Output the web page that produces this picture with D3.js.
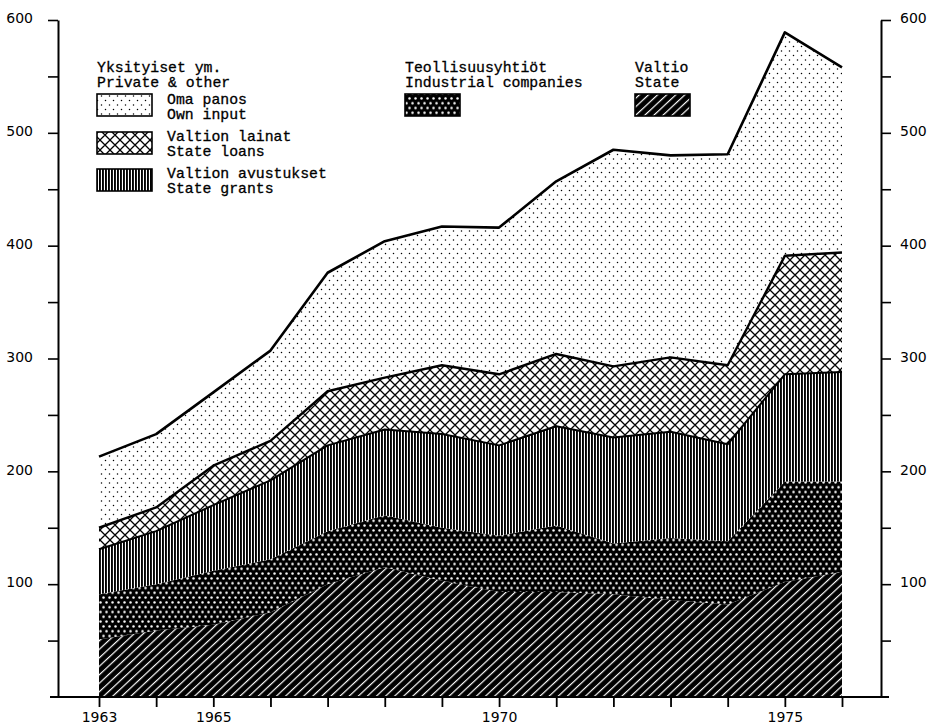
<!DOCTYPE html>
<html><head><meta charset="utf-8">
<script src="https://cdn.jsdelivr.net/npm/d3@7"></script>
<style>body{margin:0;background:#fff}svg{display:block}</style>
</head><body>
<svg id="c" width="928" height="724"></svg>
<script>
// ---- data (millions of marks) ----
const years      = [1963,1964,1965,1966,1967,1968,1969,1970,1971,1972,1973,1974,1975,1976];
const stateVals  = [51, 59, 64, 75,100,115,103, 93, 93, 91, 86, 82,102,111];
const industryVals=[40, 41, 48, 47, 47, 46, 47, 50, 59, 45, 55, 56, 89, 80];
const grantVals  = [40, 47, 58, 70, 76, 76, 83, 80, 88, 94, 94, 86, 95, 97];
const loanVals   = [19, 21, 35, 35, 48, 46, 61, 63, 64, 63, 66, 70,105,106];
const ownVals    = [63, 65, 65, 80,105,121,123,130,153,192,179,187,198,164];
const yTickValues = [50,100,150,200,250,300,350,400,450,500,550,600];
const yLabelValues = [100,200,300,400,500,600];
const xLabelValues = [1963,1965,1970,1975];

const keys = ["state","industry","grants","loans","own"];
const table = years.map((yr,i)=>({year:yr,state:stateVals[i],industry:industryVals[i],grants:grantVals[i],loans:loanVals[i],own:ownVals[i]}));

const svg = d3.select("#c");
const x = d3.scaleLinear().domain([1963,1976]).range([99,842]);
const y = d3.scaleLinear().domain([0,600]).range([697,20]);

// ---- patterns ----
const defs = svg.append("defs");
let p = defs.append("pattern").attr("id","pState").attr("patternUnits","userSpaceOnUse")
  .attr("width",6.2).attr("height",6.2).attr("patternTransform","rotate(-43)");
p.append("rect").attr("width",6.2).attr("height",6.2).attr("fill","#000");
p.append("rect").attr("y",2.6).attr("width",6.2).attr("height",1.2).attr("fill","#fff");
p = defs.append("pattern").attr("id","pInd").attr("patternUnits","userSpaceOnUse")
  .attr("width",6).attr("height",9.6);
p.append("rect").attr("width",6).attr("height",9.6).attr("fill","#000");
p.append("circle").attr("cx",1.5).attr("cy",2.4).attr("r",1.25).attr("fill","#fff");
p.append("circle").attr("cx",4.5).attr("cy",7.2).attr("r",1.25).attr("fill","#fff");
p = defs.append("pattern").attr("id","pGrant").attr("patternUnits","userSpaceOnUse")
  .attr("width",3).attr("height",10);
p.append("rect").attr("width",3).attr("height",10).attr("fill","#fff");
p.append("rect").attr("width",1.9).attr("height",10).attr("fill","#000");
p = defs.append("pattern").attr("id","pLoan").attr("patternUnits","userSpaceOnUse")
  .attr("width",10).attr("height",10);
p.append("rect").attr("width",10).attr("height",10).attr("fill","#fff");
p.append("path").attr("d","M-1,-1L11,11M-1,11L11,-1M4,-6L16,6M-6,4L6,16M-6,6L6,-6M4,16L16,4")
  .attr("stroke","#000").attr("stroke-width",1.3);
p = defs.append("pattern").attr("id","pOwn").attr("patternUnits","userSpaceOnUse")
  .attr("width",8).attr("height",9);
p.append("rect").attr("width",8).attr("height",9).attr("fill","#fff");
p.append("circle").attr("cx",1.5).attr("cy",1.5).attr("r",0.75).attr("fill","#000");
p.append("circle").attr("cx",5.5).attr("cy",6).attr("r",0.75).attr("fill","#000");

const fills = {state:"url(#pState)",industry:"url(#pInd)",grants:"url(#pGrant)",loans:"url(#pLoan)",own:"url(#pOwn)"};

// ---- stacked areas ----
const series = d3.stack().keys(keys)(table);
const area = d3.area().x(d=>x(d.data.year)).y0(d=>y(d[0])).y1(d=>y(d[1]));
svg.append("g").selectAll("path").data(series).join("path")
  .attr("d",area).attr("fill",d=>fills[d.key]);

const line = d3.line().x(d=>x(d.data.year)).y(d=>y(d[1]));
const lw = {grants:2, loans:2.4, own:2.6};
svg.append("g").selectAll("path").data(series.filter(s=>lw[s.key])).join("path")
  .attr("d",line).attr("fill","none").attr("stroke","#000")
  .attr("stroke-width",d=>lw[d.key]).attr("stroke-linejoin","round");

// ---- axes ----
const axisFont = "DejaVu Sans, sans-serif";
const fmtY = d=> yLabelValues.includes(d) ? d : "";
const gl = svg.append("g").attr("transform","translate(58,0)")
  .call(d3.axisLeft(y).tickValues(yTickValues).tickSize(10).tickSizeOuter(0).tickPadding(15).tickFormat(fmtY));
const gr = svg.append("g").attr("transform","translate(881,0)")
  .call(d3.axisRight(y).tickValues(yTickValues).tickSize(10).tickSizeOuter(0).tickPadding(9).tickFormat(fmtY));
[gl,gr].forEach(g=>{
  g.select(".domain").attr("stroke-width",2);
  g.selectAll(".tick line").attr("stroke-width",1.6);
  g.selectAll("text").attr("font-family",axisFont).attr("font-size",14).attr("dy","0.2em").attr("fill","#000");
});
const gb = svg.append("g").attr("transform","translate(0,697)")
  .call(d3.axisBottom(x).tickValues(years).tickSize(10).tickPadding(5).tickFormat(d=> xLabelValues.includes(d) ? d : ""));
gb.select(".domain").remove();
gb.selectAll(".tick line").attr("stroke-width",1.8);
gb.selectAll("text").attr("font-family",axisFont).attr("font-size",14).attr("fill","#000");
svg.append("line").attr("x1",50).attr("x2",889).attr("y1",697).attr("y2",697)
  .attr("stroke","#000").attr("stroke-width",2);

// ---- legend ----
const legFont = "Liberation Mono, Courier New, monospace";
const legendText = [
  {x:97,y:72,t:"Yksityiset ym."},{x:97,y:87,t:"Private & other"},
  {x:167,y:104,t:"Oma panos"},{x:167,y:119,t:"Own input"},
  {x:167,y:141,t:"Valtion lainat"},{x:167,y:156,t:"State loans"},
  {x:167,y:178,t:"Valtion avustukset"},{x:167,y:193,t:"State grants"},
  {x:405,y:72,t:"Teollisuusyhtiöt"},{x:405,y:87,t:"Industrial companies"},
  {x:635,y:72,t:"Valtio"},{x:635,y:87,t:"State"}
];
svg.append("g").selectAll("text").data(legendText).join("text")
  .attr("x",d=>d.x).attr("y",d=>d.y).text(d=>d.t)
  .attr("font-family",legFont).attr("font-size",14.8).attr("fill","#000")
  .attr("stroke","#000").attr("stroke-width",0.3);
const legendBoxes = [
  {x:97,y:94,k:"own"},{x:97,y:132,k:"loans"},{x:97,y:169,k:"grants"},
  {x:405,y:94,k:"industry"},{x:635,y:94,k:"state"}
];
svg.append("g").selectAll("rect").data(legendBoxes).join("rect")
  .attr("x",d=>d.x).attr("y",d=>d.y).attr("width",55).attr("height",22)
  .attr("fill",d=>fills[d.k]).attr("stroke","#000").attr("stroke-width",1.6);
</script>
</body></html>
